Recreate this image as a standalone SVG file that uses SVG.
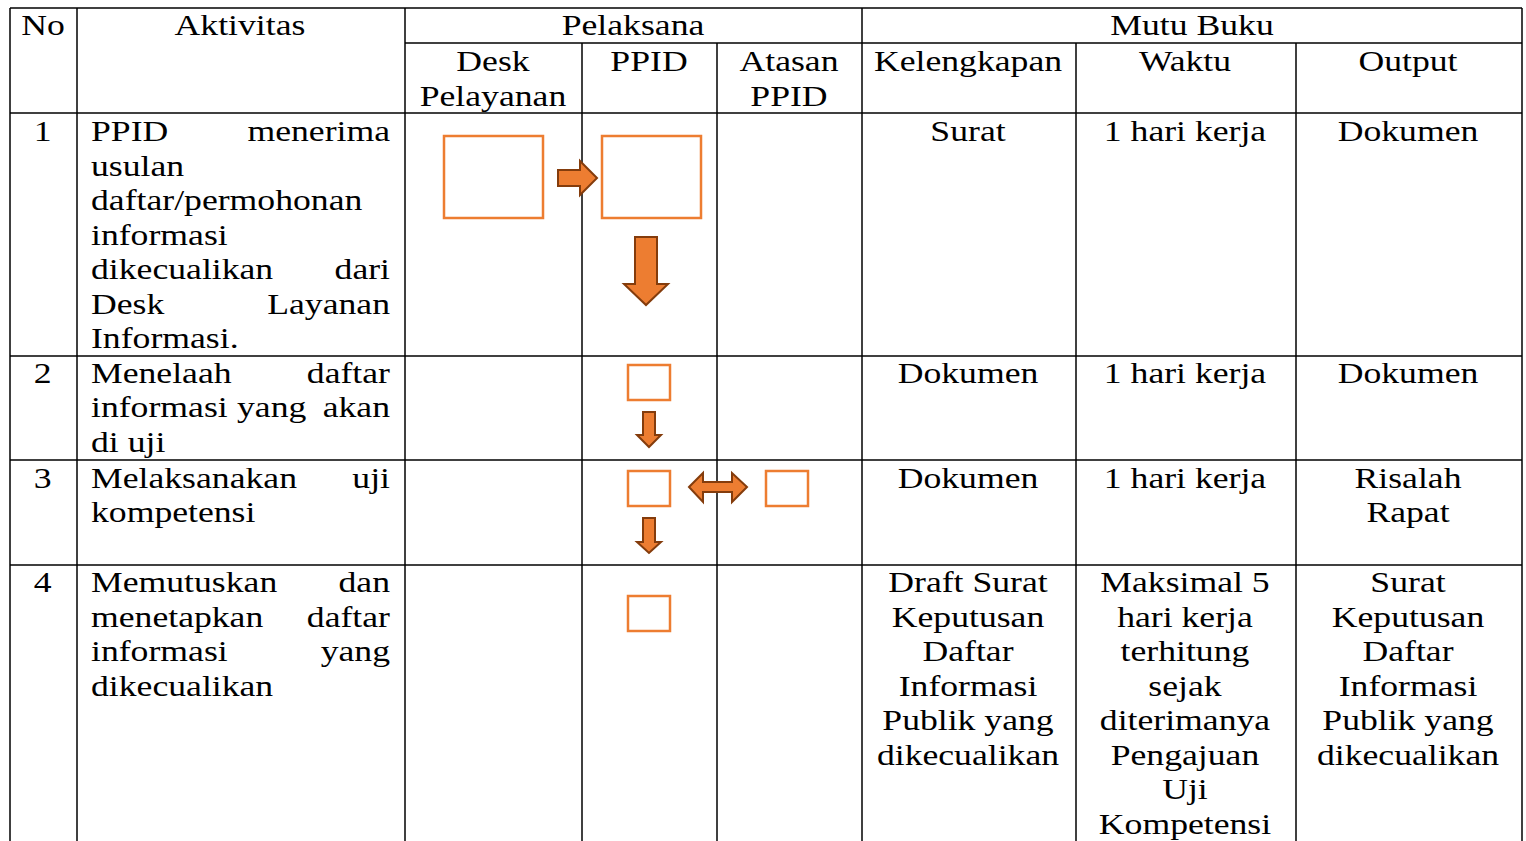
<svg xmlns="http://www.w3.org/2000/svg" width="1526" height="841" viewBox="0 0 1526 841">
<style>
text{font-family:"Liberation Serif","DejaVu Serif",serif;font-size:29px;fill:#000}
.c{text-anchor:middle}
.e{text-anchor:end}
.grid line{stroke:#000;stroke-width:1.5}
.box{fill:#fff;stroke:#ED7D31;stroke-width:2.5}
.arr{fill:#ED7D31;stroke:#843C0C;stroke-width:2;stroke-linejoin:miter}
</style>
<rect width="1526" height="841" fill="#fff"/>
<g id="grid" class="grid">
<line x1="10" y1="8" x2="1522" y2="8"/>
<line x1="405" y1="43" x2="1522" y2="43"/>
<line x1="10" y1="113" x2="1522" y2="113"/>
<line x1="10" y1="356" x2="1522" y2="356"/>
<line x1="10" y1="460" x2="1522" y2="460"/>
<line x1="10" y1="565" x2="1522" y2="565"/>
<line x1="10" y1="8" x2="10" y2="841"/>
<line x1="77" y1="8" x2="77" y2="841"/>
<line x1="405" y1="8" x2="405" y2="841"/>
<line x1="582" y1="43" x2="582" y2="841"/>
<line x1="717" y1="43" x2="717" y2="841"/>
<line x1="862" y1="8" x2="862" y2="841"/>
<line x1="1076" y1="43" x2="1076" y2="841"/>
<line x1="1296" y1="43" x2="1296" y2="841"/>
<line x1="1522" y1="8" x2="1522" y2="841"/>
</g>
<g id="header" transform="scale(1.23 1)">
<text class="c" x="34.96" y="35">No</text>
<text class="c" x="195.12" y="35">Aktivitas</text>
<text class="c" x="514.63" y="35">Pelaksana</text>
<text class="c" x="969.11" y="35">Mutu Buku</text>
<text class="c" x="400.81" y="71">Desk</text>
<text class="c" x="400.81" y="106">Pelayanan</text>
<text class="c" x="527.64" y="71">PPID</text>
<text class="c" x="641.46" y="71">Atasan</text>
<text class="c" x="641.46" y="106">PPID</text>
<text class="c" x="786.99" y="71">Kelengkapan</text>
<text class="c" x="963.41" y="71">Waktu</text>
<text class="c" x="1144.72" y="71">Output</text>
</g>
<g id="row1" transform="scale(1.23 1)">
<text class="c" x="34.6" y="141">1</text>
<text x="73.98" y="141">PPID</text><text class="e" x="317.07" y="141">menerima</text>
<text x="73.98" y="176">usulan</text>
<text x="73.98" y="210">daftar/permohonan</text>
<text x="73.98" y="245">informasi</text>
<text x="73.98" y="279">dikecualikan</text><text class="e" x="317.07" y="279">dari</text>
<text x="73.98" y="314">Desk</text><text class="e" x="317.07" y="314">Layanan</text>
<text x="73.98" y="348">Informasi.</text>
<text class="c" x="786.99" y="141">Surat</text>
<text class="c" x="963.41" y="141">1 hari kerja</text>
<text class="c" x="1144.72" y="141">Dokumen</text>
</g>
<g id="row2" transform="scale(1.23 1)">
<text class="c" x="34.6" y="383">2</text>
<text x="73.98" y="383">Menelaah</text><text class="e" x="317.07" y="383">daftar</text>
<text x="73.98" y="417">informasi</text><text x="192.68" y="417">yang</text><text class="e" x="317.07" y="417">akan</text>
<text x="73.98" y="452">di uji</text>
<text class="c" x="786.99" y="383">Dokumen</text>
<text class="c" x="963.41" y="383">1 hari kerja</text>
<text class="c" x="1144.72" y="383">Dokumen</text>
</g>
<g id="row3" transform="scale(1.23 1)">
<text class="c" x="34.6" y="488">3</text>
<text x="73.98" y="488">Melaksanakan</text><text class="e" x="317.07" y="488">uji</text>
<text x="73.98" y="522">kompetensi</text>
<text class="c" x="786.99" y="488">Dokumen</text>
<text class="c" x="963.41" y="488">1 hari kerja</text>
<text class="c" x="1144.72" y="488">Risalah</text>
<text class="c" x="1144.72" y="522">Rapat</text>
</g>
<g id="row4" transform="scale(1.23 1)">
<text class="c" x="34.6" y="592">4</text>
<text x="73.98" y="592">Memutuskan</text><text class="e" x="317.07" y="592">dan</text>
<text x="73.98" y="627">menetapkan</text><text class="e" x="317.07" y="627">daftar</text>
<text x="73.98" y="661">informasi</text><text class="e" x="317.07" y="661">yang</text>
<text x="73.98" y="696">dikecualikan</text>
<text class="c" x="786.99" y="592">Draft Surat</text>
<text class="c" x="786.99" y="627">Keputusan</text>
<text class="c" x="786.99" y="661">Daftar</text>
<text class="c" x="786.99" y="696">Informasi</text>
<text class="c" x="786.99" y="730">Publik yang</text>
<text class="c" x="786.99" y="765">dikecualikan</text>
<text class="c" x="963.41" y="592">Maksimal 5</text>
<text class="c" x="963.41" y="627">hari kerja</text>
<text class="c" x="963.41" y="661">terhitung</text>
<text class="c" x="963.41" y="696">sejak</text>
<text class="c" x="963.41" y="730">diterimanya</text>
<text class="c" x="963.41" y="765">Pengajuan</text>
<text class="c" x="963.41" y="799">Uji</text>
<text class="c" x="963.41" y="834">Kompetensi</text>
<text class="c" x="1144.72" y="592">Surat</text>
<text class="c" x="1144.72" y="627">Keputusan</text>
<text class="c" x="1144.72" y="661">Daftar</text>
<text class="c" x="1144.72" y="696">Informasi</text>
<text class="c" x="1144.72" y="730">Publik yang</text>
<text class="c" x="1144.72" y="765">dikecualikan</text>
</g>
<g id="node-desk1"><rect class="box" x="444" y="136" width="99" height="82"/></g>
<g id="node-ppid1"><rect class="box" x="602" y="136" width="99" height="82"/></g>
<g id="node-ppid2"><rect class="box" x="628" y="365" width="42" height="35"/></g>
<g id="node-ppid3"><rect class="box" x="628" y="471" width="42" height="35"/></g>
<g id="node-atasan3"><rect class="box" x="766" y="471" width="42" height="35"/></g>
<g id="node-ppid4"><rect class="box" x="628" y="596" width="42" height="35"/></g>
<g id="connectors">
<path class="arr" d="M558 170 H580 V161 L597 178 L580 195 V186 H558 Z"/>
<path class="arr" d="M635 237 H657 V284 H668 L646 305 L624 284 H635 Z"/>
<path class="arr" d="M643 412 H655 V435 H661 L649 447 L637 435 H643 Z"/>
<path class="arr" d="M689 487 L703 473 V482 H732 V473 L747 487 L732 502 V492 H703 V502 Z"/>
<path class="arr" d="M643 518 H655 V542 H661 L649 553 L637 542 H643 Z"/>
</g>
</svg>
